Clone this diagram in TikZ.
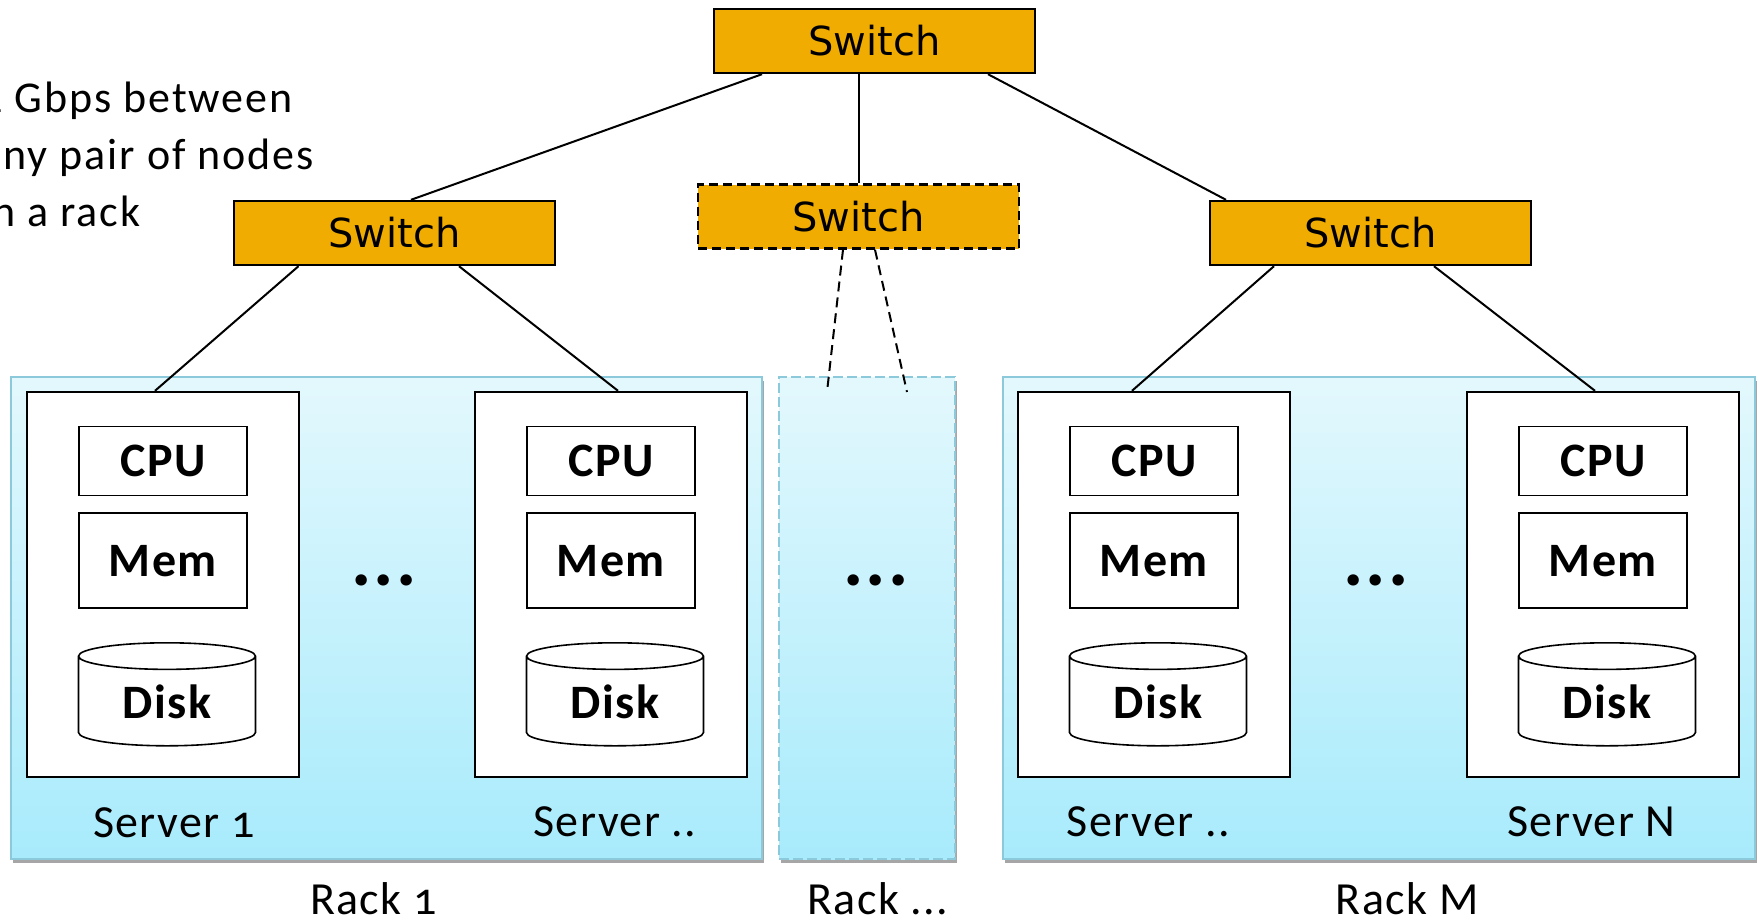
\documentclass[tikz,border=0pt]{standalone}
\usepackage{fontspec}
\setmainfont{Carlito}[Numbers=OldStyle, LetterSpace=3]
\newfontfamily\notefont{Carlito}[Numbers=OldStyle, LetterSpace=4.5]
\newfontfamily\switchfont{DejaVu Sans}
\usetikzlibrary{shapes.geometric}
\usetikzlibrary{shadows}
\usetikzlibrary{positioning}
\definecolor{switchgold}{HTML}{F0AC00}
\definecolor{racktop}{HTML}{E3F8FD}
\definecolor{rackbottom}{HTML}{A8EBFC}
\definecolor{rackline}{HTML}{8CCADB}
\tikzset{
	base_box/.style = {
		rectangle,
		align=center,
		inner sep=0pt,
		text centered
	},
	switch_box/.style = {
		base_box,
		draw=black,
		fill=switchgold,
		line width=1.2pt,
		minimum width=160.5pt,
		minimum height=32pt,
		font=\switchfont\fontsize{20}{24}\selectfont
	},
	switch_dashed/.style = {
		switch_box,
		dash pattern=on 4.5pt off 2.5pt
	},
	rack_box/.style = {
		base_box,
		draw=rackline,
		line width=1pt,
		top color=racktop,
		bottom color=rackbottom,
		minimum height=241pt,
		drop shadow={shadow xshift=1pt, shadow yshift=-2pt, fill=black, opacity=0.35}
	},
	rack_dashed/.style = {
		rack_box,
		minimum width=88pt,
		dash pattern=on 5pt off 2pt
	},
	server_box/.style = {
		base_box,
		draw=black,
		fill=white,
		line width=1.2pt,
		minimum width=136pt,
		minimum height=192.5pt
	},
	part_box/.style = {
		base_box,
		draw=black,
		fill=white,
		line width=0.8pt,
		minimum width=84pt,
		font=\bfseries\fontsize{24}{28}\selectfont
	},
	cpu_box/.style = {
		part_box,
		minimum height=34.5pt
	},
	mem_box/.style = {
		part_box,
		minimum height=47.5pt
	},
	disk_box/.style = {
		part_box,
		cylinder,
		shape border rotate=90,
		aspect=0.3,
		minimum width=88.5pt,
		minimum height=51.5pt
	},
	label_text/.style = {
		inner sep=0pt,
		anchor=base,
		font=\fontsize{23}{28}\selectfont
	},
	dots_text/.style = {
		inner sep=0pt,
		anchor=base,
		font=\bfseries\fontsize{38}{40}\selectfont
	},
	note_text/.style = {
		inner sep=0pt,
		align=left,
		anchor=north west,
		font=\notefont\fontsize{22}{28.5}\selectfont
	},
	link/.style = {
		line width=1pt
	},
	link_dashed/.style = {
		link,
		dash pattern=on 5pt off 3pt
	}
}
\begin{document}
\begin{tikzpicture}[x=0.5pt, y=-0.5pt]
\useasboundingbox (0,0) rectangle (1758,922);
\clip (0,0) rectangle (1758,922);

\node [note_text] (note) at (-20,82) {1 Gbps between\\any pair of nodes\\in a rack};

% racks
\node [rack_box, minimum width=375.5pt] (rack1) at (386.5,618) {};
\node [rack_dashed] (rackmid) at (867,618) {};
\node [rack_box, minimum width=376pt] (rackm) at (1379,618) {};

% servers
\node [server_box] (srv1) at (163,584.5) {};
\node [cpu_box, below=17.5pt of srv1.north] (cpu1) {CPU};
\node [mem_box, below=8pt of cpu1] (mem1) {Mem};
\node [disk_box, below=16.5pt of mem1, xshift=2pt] (disk1) {Disk};

\node [server_box] (srv2) at (611,584.5) {};
\node [cpu_box, below=17.5pt of srv2.north] (cpu2) {CPU};
\node [mem_box, below=8pt of cpu2] (mem2) {Mem};
\node [disk_box, below=16.5pt of mem2, xshift=2pt] (disk2) {Disk};

\node [server_box] (srv3) at (1154,584.5) {};
\node [cpu_box, below=17.5pt of srv3.north] (cpu3) {CPU};
\node [mem_box, below=8pt of cpu3] (mem3) {Mem};
\node [disk_box, below=16.5pt of mem3, xshift=2pt] (disk3) {Disk};

\node [server_box] (srv4) at (1603,584.5) {};
\node [cpu_box, below=17.5pt of srv4.north] (cpu4) {CPU};
\node [mem_box, below=8pt of cpu4] (mem4) {Mem};
\node [disk_box, below=16.5pt of mem4, xshift=2pt] (disk4) {Disk};

\node [dots_text] (dots1) at (384,585) {...};
\node [dots_text] (dotsmid) at (876,585) {...};
\node [dots_text] (dotsm) at (1376,585) {...};

\node [label_text] (lbl1) at (174,837) {Server 1};
\node [label_text] (lbl2) at (615,836) {Server ..};
\node [label_text] (lbl3) at (1148.5,836) {Server ..};
\node [label_text] (lbl4) at (1591.5,836) {Server N};

\node [label_text] (rlbl1) at (373.5,914) {Rack 1};
\node [label_text] (rlblmid) at (878,914) {Rack ...};
\node [label_text] (rlblm) at (1407,914) {Rack M};

% switches
\node [switch_box] (sw_top) at (874.5,41) {Switch};
\node [switch_box] (sw_left) at (394.5,233) {Switch};
\node [switch_dashed] (sw_mid) at (858.5,216.5) {Switch};
\node [switch_box] (sw_right) at (1370.5,233) {Switch};

\coordinate (mid_a) at (827,392);
\coordinate (mid_b) at (907,392);

\draw [link] ([xshift=-56.25pt]sw_top.south) -- ([xshift=8.25pt]sw_left.north);
\draw [link] (sw_mid.north |- sw_top.south) -- (sw_mid.north);
\draw [link] ([xshift=56.75pt]sw_top.south) -- ([xshift=-72.25pt]sw_right.north);
\draw [link] ([xshift=-48pt]sw_left.south) -- ([xshift=-4pt]srv1.north);
\draw [link] ([xshift=32.25pt]sw_left.south) -- ([xshift=3.5pt]srv2.north);
\draw [link] ([xshift=-48.25pt]sw_right.south) -- ([xshift=-11pt]srv3.north);
\draw [link] ([xshift=31.75pt]sw_right.south) -- ([xshift=-4pt]srv4.north);
\draw [link_dashed] ([xshift=-7.75pt]sw_mid.south) -- (mid_a);
\draw [link_dashed] ([xshift=8.25pt]sw_mid.south) -- (mid_b);
\end{tikzpicture}
\end{document}
